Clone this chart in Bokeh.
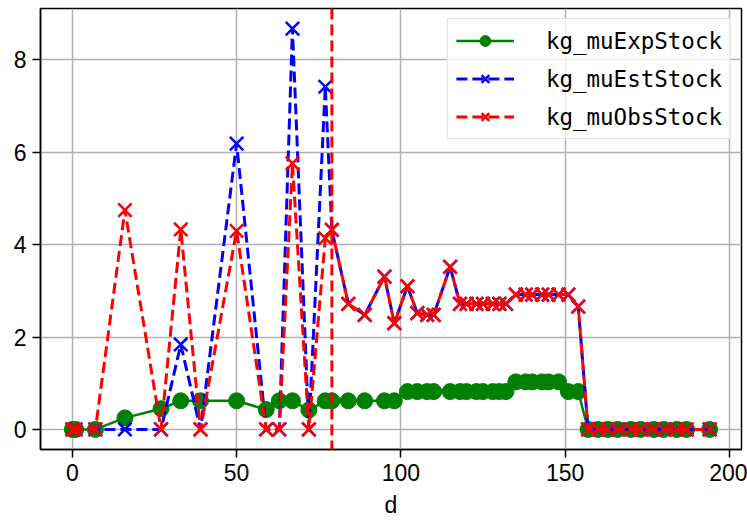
from bokeh.plotting import figure
from bokeh.models import Range1d, Span, FixedTicker
from bokeh.embed import file_html
from bokeh.resources import INLINE

# ---- data ----
d = [0, 1, 7, 16, 27, 33, 39,
     50, 59, 63, 67, 72, 77, 79,
     84, 89, 95, 98, 102, 105, 108, 110,
     115, 118, 120, 123, 125, 128, 130, 132,
     135, 138, 140, 143, 145, 148, 151, 154,
     157, 160, 163, 166, 170, 173, 177, 180, 184, 187, 194]

kg_muExpStock = [0, 0, 0, 0.25, 0.45, 0.62, 0.62,
                 0.62, 0.43, 0.62, 0.62, 0.42, 0.62, 0.62,
                 0.62, 0.62, 0.62, 0.62, 0.82, 0.82, 0.82, 0.82,
                 0.82, 0.82, 0.82, 0.82, 0.82, 0.82, 0.82, 0.82,
                 1.03, 1.03, 1.03, 1.03, 1.03, 1.03, 0.82, 0.82,
                 0, 0, 0, 0, 0, 0, 0, 0, 0, 0, 0]

kg_muEstStock = [0, 0, 0, 0, 0, 1.84, 0,
                 6.19, 0, 0, 8.68, 0, 7.42, 4.32,
                 2.72, 2.48, 3.31, 2.3, 3.1, 2.52, 2.48, 2.48,
                 3.52, 2.72, 2.72, 2.72, 2.72, 2.72, 2.72, 2.72,
                 2.92, 2.92, 2.92, 2.92, 2.92, 2.92, 2.92, 2.66,
                 0, 0, 0, 0, 0, 0, 0, 0, 0, 0, 0]

kg_muObsStock = [0, 0, 0, 4.75, 0, 4.33, 0,
                 4.3, 0, 0, 5.76, 0, 4.14, 4.32,
                 2.72, 2.48, 3.31, 2.3, 3.1, 2.52, 2.48, 2.48,
                 3.52, 2.72, 2.72, 2.72, 2.72, 2.72, 2.72, 2.72,
                 2.92, 2.92, 2.92, 2.92, 2.92, 2.92, 2.92, 2.66,
                 0, 0, 0, 0, 0, 0, 0, 0, 0, 0, 0]

split_day = 79
x_ticks = [0, 50, 100, 150, 200]
y_ticks = [0, 2, 4, 6, 8]
x_label = "d"

# ---- ranges (matplotlib-like 5% margins) ----
xmin, xmax = min(d), max(d)
allv = kg_muExpStock + kg_muEstStock + kg_muObsStock
ymin, ymax = min(allv), max(allv)
xpad = 0.05 * (xmax - xmin)
ypad = 0.05 * (ymax - ymin)

p = figure(width=747, height=520, output_backend="svg", toolbar_location=None,
           x_range=Range1d(xmin - xpad, xmax + xpad),
           y_range=Range1d(ymin - ypad, ymax + ypad),
           min_border_left=40, min_border_right=6, min_border_top=8,
           min_border_bottom=70)

p.background_fill_color = "white"
p.border_fill_color = "white"
p.outline_line_color = "black"
p.outline_line_width = 1.5

for ax in (p.xaxis[0], p.yaxis[0]):
    ax.axis_line_color = "black"
    ax.axis_line_width = 1.5
    ax.major_tick_line_color = "black"
    ax.major_tick_line_width = 1.5
    ax.major_tick_out = 8
    ax.major_tick_in = 0
    ax.minor_tick_line_color = None
    ax.major_label_text_font = "Liberation Sans"
    ax.major_label_text_font_size = "23px"
    ax.major_label_text_color = "black"
    ax.major_label_standoff = 6

p.xaxis.ticker = FixedTicker(ticks=x_ticks)
p.yaxis.ticker = FixedTicker(ticks=y_ticks)
p.xaxis.axis_label = x_label
p.xaxis.axis_label_text_font = "Liberation Sans"
p.xaxis.axis_label_text_font_size = "23px"
p.xaxis.axis_label_text_font_style = "normal"
p.xaxis.axis_label_text_color = "black"
p.xaxis.axis_label_standoff = 8

p.xgrid.ticker = FixedTicker(ticks=x_ticks)
p.ygrid.ticker = FixedTicker(ticks=y_ticks)
for g in (p.xgrid[0], p.ygrid[0]):
    g.grid_line_color = "#b0b0b0"
    g.grid_line_width = 1.5

# green: solid with circles
p.line(d, kg_muExpStock, line_color="green", line_width=2.5, legend_label="kg_muExpStock")
p.scatter(d, kg_muExpStock, marker="circle", size=16, fill_color="green",
          line_color="green", legend_label="kg_muExpStock")

# blue: dashed with x
p.line(d, kg_muEstStock, line_color="blue", line_width=3, line_dash="11 5",
       legend_label="kg_muEstStock")
p.scatter(d, kg_muEstStock, marker="x", size=19, line_color="blue", line_width=2.5,
          legend_label="kg_muEstStock")

# red: dashed with x
p.line(d, kg_muObsStock, line_color="red", line_width=3, line_dash="11 5",
       legend_label="kg_muObsStock")
p.scatter(d, kg_muObsStock, marker="x", size=19, line_color="red", line_width=2.5,
          legend_label="kg_muObsStock")

p.add_layout(Span(location=split_day, dimension="height", line_color="red",
                  line_width=3, line_dash="11 5"))

lg = p.legend[0]
lg.location = "top_right"
lg.margin = 10
lg.padding = 8
lg.spacing = 11
lg.glyph_width = 58
lg.glyph_height = 27
lg.label_height = 27
lg.label_standoff = 32
lg.label_text_font = "DejaVu Sans Mono"
lg.label_text_font_size = "22.5px"
lg.label_text_color = "black"
lg.border_line_color = "#cccccc"
lg.border_line_width = 1.5
lg.background_fill_color = "white"
lg.background_fill_alpha = 0.8

open("out.html", "w").write(file_html(p, INLINE))
